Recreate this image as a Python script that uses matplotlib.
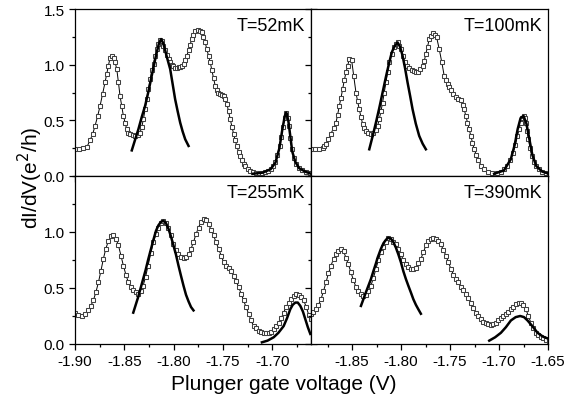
import numpy as np
import matplotlib
matplotlib.use("Agg")
from matplotlib import pyplot as plt
from matplotlib.ticker import MultipleLocator

plt.rcParams['font.family'] = ['Liberation Sans', 'DejaVu Sans']
plt.rcParams['axes.unicode_minus'] = False

# measured dI/dV traces, (gate voltage, conductance) pairs
data_52 = np.array([
    [-1.900, 0.24], [-1.896, 0.24], [-1.892, 0.25], [-1.888, 0.26], [-1.8848, 0.32],
    [-1.882, 0.38], [-1.8797, 0.45], [-1.877, 0.54], [-1.8746, 0.63], [-1.872, 0.74],
    [-1.8696, 0.84], [-1.8678, 0.92], [-1.8662, 0.99], [-1.8645, 1.06], [-1.8628, 1.08],
    [-1.861, 1.06], [-1.8593, 1.02], [-1.8577, 0.96], [-1.856, 0.84], [-1.8544, 0.72],
    [-1.8527, 0.63], [-1.851, 0.54], [-1.8493, 0.48], [-1.8476, 0.42], [-1.846, 0.39],
    [-1.8442, 0.38], [-1.8417, 0.37], [-1.8391, 0.36], [-1.8366, 0.37], [-1.8341, 0.39],
    [-1.8324, 0.44], [-1.8307, 0.51], [-1.829, 0.60], [-1.8273, 0.69], [-1.8256, 0.78],
    [-1.8239, 0.87], [-1.8222, 0.95], [-1.8205, 1.01], [-1.8189, 1.08], [-1.8172, 1.14],
    [-1.8155, 1.19], [-1.8138, 1.22], [-1.812, 1.21], [-1.8104, 1.17], [-1.8087, 1.13],
    [-1.807, 1.09], [-1.8053, 1.05], [-1.8036, 1.02], [-1.802, 1.00], [-1.8003, 0.99],
    [-1.7986, 0.97], [-1.7969, 0.97], [-1.795, 0.98], [-1.7935, 0.98], [-1.7918, 0.99],
    [-1.790, 1.01], [-1.7884, 1.04], [-1.7867, 1.08], [-1.785, 1.13], [-1.7834, 1.18],
    [-1.7817, 1.23], [-1.780, 1.27], [-1.778, 1.30], [-1.775, 1.31], [-1.7733, 1.30],
    [-1.7716, 1.29], [-1.770, 1.25], [-1.7682, 1.20], [-1.7665, 1.14], [-1.7648, 1.08],
    [-1.763, 1.02], [-1.7614, 0.95], [-1.7597, 0.88], [-1.758, 0.81], [-1.7563, 0.77],
    [-1.7547, 0.75], [-1.753, 0.74], [-1.7513, 0.73], [-1.7496, 0.72], [-1.748, 0.69],
    [-1.7462, 0.65], [-1.7445, 0.58], [-1.7428, 0.51], [-1.741, 0.44], [-1.7394, 0.38],
    [-1.7378, 0.32], [-1.7361, 0.27], [-1.7344, 0.22], [-1.7327, 0.18], [-1.731, 0.14],
    [-1.7293, 0.11], [-1.7276, 0.09], [-1.725, 0.06], [-1.7225, 0.045], [-1.720, 0.035],
    [-1.717, 0.03], [-1.714, 0.03], [-1.711, 0.03], [-1.708, 0.035], [-1.705, 0.045],
    [-1.702, 0.06], [-1.6995, 0.09], [-1.6972, 0.13], [-1.695, 0.19], [-1.6928, 0.27],
    [-1.691, 0.35], [-1.6894, 0.44], [-1.6877, 0.52], [-1.686, 0.57], [-1.6845, 0.52],
    [-1.6833, 0.45], [-1.6818, 0.34], [-1.6803, 0.24], [-1.678, 0.16], [-1.6759, 0.11],
    [-1.673, 0.07], [-1.6701, 0.05], [-1.666, 0.04], [-1.662, 0.03],
])

data_100 = np.array([
    [-1.892, 0.24], [-1.888, 0.24], [-1.884, 0.24], [-1.8801, 0.25], [-1.8784, 0.27],
    [-1.8767, 0.29], [-1.8742, 0.33], [-1.8716, 0.38], [-1.869, 0.43], [-1.8665, 0.48],
    [-1.8648, 0.55], [-1.8631, 0.63], [-1.8614, 0.70], [-1.8597, 0.78], [-1.858, 0.86],
    [-1.8563, 0.93], [-1.8546, 0.99], [-1.8529, 1.05], [-1.8505, 1.04], [-1.8484, 0.90],
    [-1.8461, 0.75], [-1.8444, 0.67], [-1.8427, 0.60], [-1.841, 0.53], [-1.8393, 0.47],
    [-1.8376, 0.43], [-1.8359, 0.40], [-1.8333, 0.39], [-1.8308, 0.38], [-1.8282, 0.39],
    [-1.8257, 0.41], [-1.824, 0.45], [-1.8223, 0.51], [-1.8206, 0.58], [-1.8189, 0.66],
    [-1.8172, 0.75], [-1.8155, 0.84], [-1.8138, 0.93], [-1.8121, 1.02], [-1.8098, 1.10],
    [-1.8076, 1.16], [-1.8056, 1.19], [-1.8036, 1.20], [-1.8019, 1.17], [-1.8002, 1.14],
    [-1.7982, 1.08], [-1.7961, 1.02], [-1.794, 0.99], [-1.7917, 0.97], [-1.789, 0.95],
    [-1.7866, 0.94], [-1.7849, 0.93], [-1.7832, 0.93], [-1.7806, 0.96], [-1.7781, 0.99],
    [-1.7764, 1.03], [-1.7747, 1.10], [-1.773, 1.16], [-1.7713, 1.23], [-1.7692, 1.26],
    [-1.7672, 1.28], [-1.7655, 1.27], [-1.7638, 1.25], [-1.7611, 1.14], [-1.7584, 1.02],
    [-1.756, 0.90], [-1.7543, 0.86], [-1.7526, 0.83], [-1.751, 0.80], [-1.7492, 0.77],
    [-1.7466, 0.74], [-1.7441, 0.71], [-1.7415, 0.69], [-1.739, 0.68], [-1.7373, 0.64],
    [-1.7356, 0.60], [-1.7339, 0.54], [-1.7322, 0.48], [-1.7305, 0.42], [-1.7288, 0.36],
    [-1.7271, 0.30], [-1.7254, 0.24], [-1.7232, 0.19], [-1.721, 0.14], [-1.718, 0.09],
    [-1.7152, 0.06], [-1.711, 0.04], [-1.7067, 0.03], [-1.7025, 0.03], [-1.6982, 0.04],
    [-1.695, 0.06], [-1.6914, 0.09], [-1.6885, 0.14], [-1.6856, 0.21], [-1.6834, 0.28],
    [-1.6812, 0.36], [-1.6795, 0.42], [-1.6778, 0.48], [-1.6764, 0.52], [-1.675, 0.54],
    [-1.6738, 0.52], [-1.6727, 0.48], [-1.6714, 0.40], [-1.670, 0.33], [-1.6683, 0.25],
    [-1.6665, 0.18], [-1.6645, 0.13], [-1.6624, 0.09], [-1.659, 0.06], [-1.6557, 0.04],
    [-1.652, 0.03], [-1.6489, 0.02],
])

data_255 = np.array([
    [-1.900, 0.28], [-1.8966, 0.26], [-1.8932, 0.25], [-1.8899, 0.27], [-1.8865, 0.30],
    [-1.884, 0.34], [-1.8814, 0.39], [-1.8789, 0.46], [-1.8763, 0.55], [-1.8738, 0.65],
    [-1.8713, 0.76], [-1.8688, 0.85], [-1.8662, 0.92], [-1.8636, 0.96], [-1.8611, 0.97],
    [-1.8585, 0.94], [-1.856, 0.88], [-1.8535, 0.79], [-1.851, 0.70], [-1.8485, 0.62],
    [-1.846, 0.55], [-1.8435, 0.51], [-1.841, 0.48], [-1.8385, 0.46], [-1.836, 0.45],
    [-1.8335, 0.47], [-1.831, 0.52], [-1.8285, 0.60], [-1.826, 0.70], [-1.8233, 0.81],
    [-1.8206, 0.91], [-1.818, 0.98], [-1.8155, 1.04], [-1.813, 1.08], [-1.8104, 1.10],
    [-1.8079, 1.08], [-1.8054, 1.04], [-1.8028, 0.97], [-1.8003, 0.89], [-1.7978, 0.84],
    [-1.7952, 0.80], [-1.7927, 0.78], [-1.7901, 0.77], [-1.7876, 0.78], [-1.785, 0.80],
    [-1.7825, 0.85], [-1.780, 0.91], [-1.7775, 0.98], [-1.7749, 1.04], [-1.7724, 1.09],
    [-1.7698, 1.12], [-1.7673, 1.11], [-1.7648, 1.07], [-1.7622, 1.02], [-1.7597, 0.97],
    [-1.7572, 0.91], [-1.7546, 0.85], [-1.752, 0.79], [-1.7495, 0.73], [-1.747, 0.70],
    [-1.7445, 0.68], [-1.742, 0.65], [-1.7394, 0.61], [-1.7369, 0.56], [-1.7343, 0.51],
    [-1.7318, 0.45], [-1.7293, 0.39], [-1.7268, 0.33], [-1.7242, 0.27], [-1.7217, 0.21],
    [-1.7191, 0.16], [-1.7166, 0.14], [-1.714, 0.12], [-1.7115, 0.11], [-1.709, 0.10],
    [-1.7065, 0.10], [-1.7039, 0.10], [-1.7013, 0.11], [-1.6988, 0.13], [-1.6963, 0.16],
    [-1.6937, 0.19], [-1.6912, 0.23], [-1.6887, 0.28], [-1.6862, 0.33], [-1.6836, 0.37],
    [-1.681, 0.40], [-1.6785, 0.43], [-1.676, 0.45], [-1.6734, 0.44], [-1.6709, 0.42],
    [-1.6684, 0.39], [-1.6658, 0.33], [-1.6633, 0.26], [-1.661, 0.22],
])

data_390 = np.array([
    [-1.892, 0.27], [-1.8895, 0.29], [-1.8869, 0.31], [-1.8844, 0.35], [-1.8818, 0.40],
    [-1.8793, 0.47], [-1.8767, 0.55], [-1.8742, 0.63], [-1.8716, 0.70], [-1.869, 0.76],
    [-1.8665, 0.80], [-1.864, 0.83], [-1.8614, 0.85], [-1.8588, 0.83], [-1.8563, 0.77],
    [-1.8538, 0.71], [-1.8512, 0.64], [-1.8487, 0.57], [-1.8461, 0.51], [-1.8436, 0.47],
    [-1.841, 0.45], [-1.8385, 0.43], [-1.8359, 0.44], [-1.8334, 0.47], [-1.8308, 0.52],
    [-1.8283, 0.59], [-1.8257, 0.67], [-1.8232, 0.75], [-1.8206, 0.82], [-1.818, 0.87],
    [-1.8155, 0.91], [-1.813, 0.95], [-1.8104, 0.94], [-1.8079, 0.91], [-1.8053, 0.89],
    [-1.8028, 0.85], [-1.8002, 0.80], [-1.7977, 0.75], [-1.7951, 0.71], [-1.7926, 0.69],
    [-1.790, 0.67], [-1.7875, 0.67], [-1.7849, 0.68], [-1.7824, 0.72], [-1.7798, 0.76],
    [-1.7772, 0.82], [-1.7747, 0.88], [-1.7722, 0.92], [-1.7696, 0.94], [-1.767, 0.95],
    [-1.7645, 0.94], [-1.762, 0.92], [-1.7594, 0.89], [-1.7569, 0.84], [-1.7543, 0.79],
    [-1.7517, 0.73], [-1.7491, 0.67], [-1.7466, 0.62], [-1.744, 0.58], [-1.7415, 0.55],
    [-1.7389, 0.51], [-1.7364, 0.48], [-1.7338, 0.45], [-1.7313, 0.41], [-1.7287, 0.37],
    [-1.7262, 0.32], [-1.7236, 0.28], [-1.721, 0.25], [-1.7185, 0.22], [-1.716, 0.20],
    [-1.7134, 0.19], [-1.7108, 0.18], [-1.7083, 0.17], [-1.7057, 0.18], [-1.7032, 0.19],
    [-1.7006, 0.21], [-1.6981, 0.23], [-1.6955, 0.25], [-1.693, 0.27], [-1.6905, 0.29],
    [-1.6879, 0.31], [-1.6853, 0.33], [-1.6828, 0.36], [-1.680, 0.37], [-1.6777, 0.37],
    [-1.6751, 0.35], [-1.6726, 0.31], [-1.670, 0.25], [-1.6675, 0.19], [-1.665, 0.14],
    [-1.6624, 0.10], [-1.660, 0.08], [-1.6573, 0.06], [-1.655, 0.05], [-1.6522, 0.04],
    [-1.6488, 0.03],
])

# fitted peaks (solid lines)
fit_52 = [
    np.array([[-1.8425, 0.23], [-1.839, 0.33], [-1.8358, 0.42], [-1.8324, 0.53], [-1.829, 0.63],
              [-1.8256, 0.76], [-1.8223, 0.90], [-1.819, 1.04], [-1.8172, 1.11], [-1.815, 1.19],
              [-1.8128, 1.23], [-1.8105, 1.19], [-1.807, 1.07], [-1.8036, 0.96], [-1.801, 0.82],
              [-1.7986, 0.69], [-1.796, 0.58], [-1.7935, 0.48], [-1.791, 0.40], [-1.7884, 0.33],
              [-1.785, 0.27]]),
    np.array([[-1.720, 0.02], [-1.710, 0.03], [-1.702, 0.06], [-1.697, 0.12], [-1.693, 0.25],
              [-1.690, 0.42], [-1.6875, 0.54], [-1.686, 0.57], [-1.684, 0.50], [-1.682, 0.36],
              [-1.680, 0.22], [-1.677, 0.13], [-1.673, 0.07], [-1.667, 0.04], [-1.661, 0.02]]),
]
fit_100 = [
    np.array([[-1.8325, 0.24], [-1.829, 0.36], [-1.8257, 0.48], [-1.8223, 0.61], [-1.8189, 0.75],
              [-1.8155, 0.89], [-1.8121, 1.02], [-1.8095, 1.11], [-1.807, 1.16], [-1.8036, 1.20],
              [-1.801, 1.16], [-1.7985, 1.08], [-1.796, 0.97], [-1.7934, 0.84], [-1.7908, 0.72],
              [-1.7883, 0.60], [-1.785, 0.47], [-1.7815, 0.36], [-1.778, 0.29], [-1.7747, 0.24]]),
    np.array([[-1.705, 0.02], [-1.695, 0.05], [-1.688, 0.15], [-1.684, 0.28], [-1.681, 0.42],
              [-1.678, 0.52], [-1.675, 0.54], [-1.672, 0.47], [-1.669, 0.33], [-1.666, 0.19],
              [-1.662, 0.09], [-1.656, 0.04], [-1.649, 0.02]]),
]
fit_255 = [
    np.array([[-1.841, 0.28], [-1.8385, 0.35], [-1.836, 0.42], [-1.8335, 0.50], [-1.831, 0.58],
              [-1.8285, 0.66], [-1.826, 0.75], [-1.8233, 0.84], [-1.8206, 0.93], [-1.818, 1.01],
              [-1.8155, 1.06], [-1.813, 1.09], [-1.8104, 1.10], [-1.8079, 1.08], [-1.8054, 1.03],
              [-1.8028, 0.96], [-1.8003, 0.88], [-1.7978, 0.80], [-1.7952, 0.70], [-1.7927, 0.61],
              [-1.7901, 0.52], [-1.7876, 0.44], [-1.785, 0.38], [-1.7825, 0.33], [-1.780, 0.30]]),
    np.array([[-1.7107, 0.015], [-1.705, 0.03], [-1.6988, 0.06], [-1.694, 0.10], [-1.6887, 0.16],
              [-1.6853, 0.23], [-1.682, 0.31], [-1.6795, 0.35], [-1.6769, 0.37], [-1.6744, 0.37],
              [-1.6718, 0.34], [-1.6692, 0.29], [-1.6667, 0.22], [-1.6642, 0.15], [-1.6617, 0.09]]),
]
fit_390 = [
    np.array([[-1.841, 0.34], [-1.8385, 0.40], [-1.836, 0.46], [-1.8334, 0.52], [-1.8308, 0.58],
              [-1.8283, 0.65], [-1.8257, 0.72], [-1.824, 0.77], [-1.8206, 0.85], [-1.818, 0.90],
              [-1.8155, 0.93], [-1.8131, 0.95], [-1.8104, 0.94], [-1.8079, 0.91], [-1.8053, 0.86],
              [-1.8028, 0.80], [-1.8002, 0.73], [-1.7977, 0.65], [-1.7951, 0.58], [-1.7926, 0.52],
              [-1.790, 0.46], [-1.7875, 0.40], [-1.7849, 0.35], [-1.7824, 0.31], [-1.7798, 0.27]]),
    np.array([[-1.710, 0.03], [-1.704, 0.06], [-1.6981, 0.10], [-1.693, 0.15], [-1.6879, 0.21],
              [-1.683, 0.24], [-1.6784, 0.25], [-1.6745, 0.24], [-1.6709, 0.21], [-1.666, 0.16],
              [-1.6607, 0.10], [-1.655, 0.065], [-1.6488, 0.045]]),
]

labels = ['T=52mK', 'T=100mK', 'T=255mK', 'T=390mK']
traces = [data_52, data_100, data_255, data_390]
fits = [fit_52, fit_100, fit_255, fit_390]

fig = plt.figure(figsize=(5.66, 4.10), dpi=100)
W, H = 566.0, 410.0
# panel boxes in pixels: left, top, right, bottom
boxes = [(75, 10, 311, 177), (311, 10, 548, 177),
         (75, 177, 311, 345), (311, 177, 548, 345)]
xlims = [(-1.90, -1.661), (-1.892, -1.65), (-1.90, -1.661), (-1.892, -1.65)]

for i, (l, t, r, b) in enumerate(boxes):
    ax = fig.add_axes([l / W, 1 - b / H, (r - l) / W, (b - t) / H])
    d = traces[i]
    ax.plot(d[:, 0], d[:, 1], color='black', lw=0.7, marker='s', ms=3.0,
            mfc='white', mec='#404040', mew=0.75, zorder=2)
    for f in fits[i]:
        ax.plot(f[:, 0], f[:, 1], color='black', lw=1.8, zorder=3)
    ax.set_xlim(*xlims[i])
    ax.set_ylim(0, 1.5)
    ax.xaxis.set_major_locator(MultipleLocator(0.05))
    ax.xaxis.set_minor_locator(MultipleLocator(0.025))
    ax.yaxis.set_major_locator(MultipleLocator(0.5))
    ax.yaxis.set_minor_locator(MultipleLocator(0.25))
    ax.xaxis.set_major_formatter(plt.FormatStrFormatter('%.2f'))
    ax.yaxis.set_major_formatter(plt.FormatStrFormatter('%.1f'))
    ax.tick_params(which='both', direction='out', labelsize=11, width=0.9,
                   top=False, right=(i % 2 == 0))
    ax.tick_params(which='major', length=4)
    ax.tick_params(which='minor', length=2.5)
    for s in ax.spines.values():
        s.set_linewidth(0.9)
    if i < 2:
        ax.tick_params(labelbottom=False)
    if i % 2 == 1:
        ax.tick_params(labelleft=False)
    if i == 2:
        ax.set_yticks([0.0, 0.5, 1.0])
    ax.text(0.975, 0.955, labels[i], transform=ax.transAxes, ha='right', va='top',
            fontsize=13)

fig.text(30 / W, 1 - 178 / H, 'dI/dV(e$^2$/h)', rotation=90, ha='center', va='center',
         fontsize=15)
fig.text(284 / W, 1 - 385 / H, 'Plunger gate voltage (V)', ha='center', va='center',
         fontsize=15)

fig.savefig('out.png', dpi=100)
